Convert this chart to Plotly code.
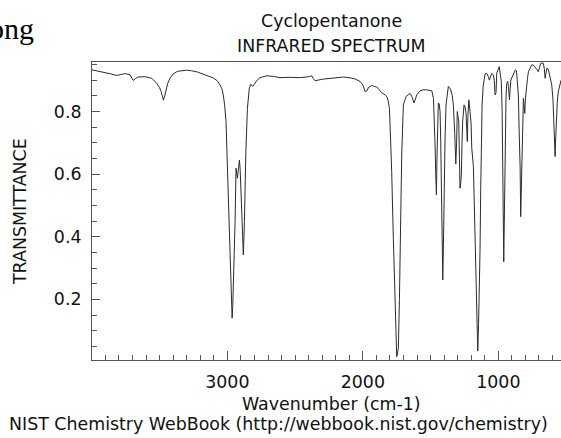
import plotly.graph_objects as go

# Wavenumber (cm-1) and transmittance
wavenumber = [
    3999, 3950, 3903, 3860, 3816, 3785, 3755, 3718, 3694, 3675, 3661, 3607, 3558, 3521, 3500, 3489,
    3472, 3462, 3455, 3440, 3423, 3400, 3370, 3337, 3300, 3263, 3220, 3165, 3130, 3103, 3075, 3054,
    3040, 3030, 3020, 3010, 3000, 2992, 2985, 2975, 2968, 2965, 2960, 2956, 2950, 2943, 2936, 2930,
    2926, 2919, 2911, 2906, 2899, 2889, 2882, 2874, 2864, 2852, 2838, 2827, 2813, 2796, 2780, 2759,
    2709, 2660, 2611, 2540, 2463, 2400, 2377, 2365, 2353, 2300, 2242, 2144, 2090, 2058, 2021, 2000,
    1984, 1971, 1955, 1934, 1915, 1897, 1880, 1861, 1835, 1820, 1812, 1804, 1800, 1792, 1787, 1775,
    1762, 1755, 1750, 1745, 1738, 1730, 1725, 1713, 1701, 1681, 1665, 1652, 1639, 1630, 1622, 1612,
    1602, 1578, 1555, 1528, 1491, 1479, 1474, 1470, 1467, 1462, 1457, 1453, 1450, 1443, 1437, 1430,
    1425, 1420, 1414, 1410, 1405, 1400, 1393, 1386, 1378, 1369, 1360, 1351, 1340, 1332, 1322, 1314,
    1308, 1303, 1298, 1292, 1287, 1283, 1278, 1273, 1268, 1263, 1253, 1246, 1238, 1232, 1229, 1225,
    1218, 1209, 1201, 1196, 1184, 1179, 1170, 1164, 1158, 1152, 1146, 1140, 1135, 1130, 1123, 1120,
    1112, 1105, 1098, 1086, 1074, 1066, 1058, 1049, 1037, 1030, 1024, 1017, 1012, 1003, 993, 986,
    978, 972, 968, 964, 960, 956, 953, 948, 943, 938, 931, 925, 918, 913, 908, 898,
    889, 874, 866, 860, 852, 845, 839, 835, 830, 825, 820, 815, 810, 805, 800, 795,
    785, 778, 765, 753, 741, 729, 717, 705, 695, 687, 678, 668, 660, 655, 649, 642,
    631, 623, 614, 606, 597, 589, 584, 581, 578, 574, 565, 557, 550, 537,
]
transmittance = [
    0.933, 0.929, 0.925, 0.920, 0.915, 0.919, 0.921, 0.917, 0.899, 0.906, 0.910, 0.911, 0.906, 0.890, 0.876, 0.864,
    0.836, 0.850, 0.864, 0.890, 0.906, 0.920, 0.928, 0.931, 0.932, 0.930, 0.926, 0.917, 0.912, 0.907, 0.898, 0.885,
    0.872, 0.853, 0.820, 0.768, 0.629, 0.500, 0.396, 0.257, 0.170, 0.140, 0.180, 0.236, 0.330, 0.448, 0.619, 0.600,
    0.587, 0.613, 0.645, 0.619, 0.555, 0.427, 0.342, 0.448, 0.661, 0.810, 0.874, 0.887, 0.880, 0.890, 0.900, 0.908,
    0.914, 0.912, 0.908, 0.909, 0.908, 0.911, 0.914, 0.905, 0.898, 0.903, 0.906, 0.910, 0.907, 0.904, 0.896, 0.885,
    0.864, 0.866, 0.878, 0.883, 0.880, 0.878, 0.870, 0.860, 0.853, 0.845, 0.832, 0.810, 0.768, 0.680, 0.608, 0.395,
    0.182, 0.060, 0.017, 0.025, 0.044, 0.200, 0.342, 0.661, 0.821, 0.848, 0.853, 0.858, 0.848, 0.838, 0.827, 0.840,
    0.853, 0.866, 0.869, 0.869, 0.866, 0.842, 0.800, 0.720, 0.695, 0.600, 0.534, 0.650, 0.768, 0.827, 0.825, 0.800,
    0.700, 0.555, 0.380, 0.262, 0.380, 0.555, 0.720, 0.821, 0.860, 0.880, 0.876, 0.869, 0.850, 0.821, 0.730, 0.632,
    0.700, 0.800, 0.785, 0.768, 0.650, 0.555, 0.570, 0.597, 0.700, 0.770, 0.821, 0.815, 0.794, 0.730, 0.704, 0.780,
    0.837, 0.800, 0.760, 0.683, 0.624, 0.534, 0.360, 0.240, 0.120, 0.035, 0.120, 0.236, 0.358, 0.555, 0.784, 0.821,
    0.880, 0.906, 0.920, 0.922, 0.912, 0.900, 0.912, 0.922, 0.917, 0.900, 0.853, 0.860, 0.922, 0.935, 0.943, 0.920,
    0.896, 0.800, 0.661, 0.450, 0.320, 0.450, 0.608, 0.750, 0.853, 0.890, 0.896, 0.880, 0.837, 0.870, 0.900, 0.910,
    0.917, 0.933, 0.930, 0.896, 0.850, 0.715, 0.620, 0.464, 0.550, 0.715, 0.800, 0.842, 0.820, 0.794, 0.840, 0.874,
    0.905, 0.927, 0.942, 0.949, 0.948, 0.943, 0.935, 0.927, 0.940, 0.954, 0.955, 0.954, 0.935, 0.906, 0.920, 0.938,
    0.935, 0.917, 0.900, 0.885, 0.840, 0.768, 0.700, 0.656, 0.700, 0.768, 0.830, 0.864, 0.875, 0.900,
]

x_ticks = [3000, 2000, 1000]
x_tick_labels = ["3000", "2000", "1000"]
y_ticks = [0.2, 0.4, 0.6, 0.8]
y_tick_labels = ["0.2", "0.4", "0.6", "0.8"]

FONT = "DejaVu Sans"
FS = 17.4
AX = "#555555"
TXT = "#111111"

fig = go.Figure()
fig.add_trace(go.Scatter(
    x=wavenumber, y=transmittance, mode="lines",
    line=dict(color="#2b2b2b", width=1), showlegend=False, hoverinfo="skip",
))

# figure geometry
W, H = 561, 438
L, R, T, B = 92, 0, 62, 78
ph = H - T - B


def py(p):
    return (H - B - p) / ph


def px(p):
    return (p - L) / (W - L - R)


fig.update_layout(
    width=W, height=H,
    margin=dict(l=L, r=R, t=T, b=B, pad=0),
    paper_bgcolor="white", plot_bgcolor="white",
    font=dict(family=FONT, size=FS, color=TXT),
    xaxis=dict(
        range=[3999, 537.5], tickvals=x_ticks, ticktext=x_tick_labels,
        ticks="inside", ticklen=9, tickwidth=1, tickcolor=AX,
        showline=True, linecolor=AX, linewidth=1, mirror=True,
        showgrid=False, zeroline=False,
        minor=dict(dtick=100, tick0=0, ticks="inside", ticklen=5, tickcolor=AX, showgrid=False),
        tickfont=dict(family=FONT, size=FS, color=TXT),
        ticklabelstandoff=6,
    ),
    yaxis=dict(
        range=[0.0064, 0.958], tickvals=y_ticks, ticktext=y_tick_labels,
        ticks="inside", ticklen=8, tickwidth=1, tickcolor=AX,
        showline=True, linecolor=AX, linewidth=1, mirror=False,
        showgrid=False, zeroline=False,
        minor=dict(dtick=0.05, tick0=0, ticks="inside", ticklen=5, tickcolor=AX, showgrid=False),
        tickfont=dict(family=FONT, size=FS, color=TXT),
        ticklabelstandoff=6,
    ),
)

annots = [
    dict(text="Cyclopentanone", x=px(331), y=py(21)),
    dict(text="INFRARED SPECTRUM", x=px(331), y=py(46)),
    dict(text="Wavenumber (cm-1)", x=px(331), y=py(404)),
    dict(text="NIST Chemistry WebBook (http://webbook.nist.gov/chemistry)", x=px(278), y=py(424)),
]
for a in annots:
    fig.add_annotation(xref="paper", yref="paper", showarrow=False,
                       xanchor="center", yanchor="middle",
                       font=dict(family=FONT, size=FS, color=TXT), **a)

fig.add_annotation(text="TRANSMITTANCE", xref="paper", yref="paper",
                   x=px(20), y=py(212), textangle=-90, showarrow=False,
                   xanchor="center", yanchor="middle",
                   font=dict(family=FONT, size=FS, color=TXT))

fig.add_annotation(text="ong", xref="paper", yref="paper",
                   x=px(36), y=py(28), showarrow=False,
                   xanchor="right", yanchor="middle",
                   font=dict(family="Liberation Serif", size=30, color="#000000"))

fig.write_html("out.html")
